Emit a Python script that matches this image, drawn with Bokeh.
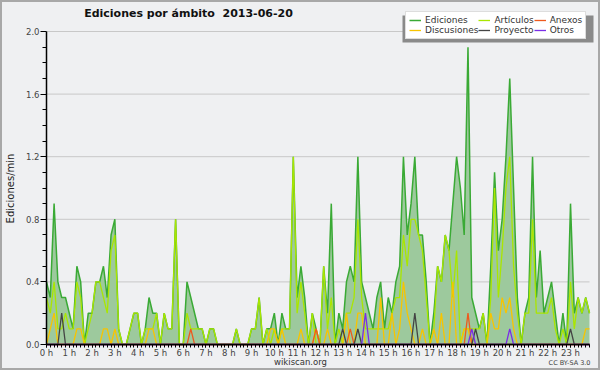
from math import pi
from bokeh.plotting import figure
from bokeh.models import Range1d, FixedTicker, Label, Legend, LegendItem, BoxAnnotation, PrintfTickFormatter
from bokeh.embed import file_html
from bokeh.resources import INLINE

# 10-minute bins over the day (minutes since 00:00)
minutos = list(range(0, 1440, 10))

# Ediciones/min per 10-minute bin
ediciones = [
    0.4, 0.3, 0.9, 0.4, 0.3, 0.3, 0.2, 0.1, 0.5, 0.4, 0.0, 0.2,
    0.2, 0.4, 0.4, 0.5, 0.3, 0.7, 0.8, 0.1, 0.0, 0.0, 0.1, 0.2,
    0.2, 0.0, 0.1, 0.3, 0.2, 0.2, 0.0, 0.2, 0.1, 0.1, 0.8, 0.0,
    0.0, 0.4, 0.3, 0.2, 0.1, 0.1, 0.0, 0.1, 0.1, 0.0, 0.0, 0.0,
    0.0, 0.0, 0.1, 0.0, 0.0, 0.0, 0.1, 0.1, 0.3, 0.0, 0.1, 0.1,
    0.2, 0.0, 0.2, 0.1, 0.1, 1.2, 0.3, 0.5, 0.3, 0.0, 0.2, 0.1,
    0.0, 0.5, 0.2, 0.9, 0.0, 0.2, 0.1, 0.4, 0.5, 0.4, 1.2, 0.4,
    0.3, 0.2, 0.1, 0.3, 0.4, 0.1, 0.3, 0.2, 0.4, 0.5, 1.2, 0.7,
    0.9, 1.2, 0.7, 0.7, 0.4, 0.0, 0.2, 0.5, 0.4, 0.7, 0.6, 0.9,
    1.2, 1.0, 0.7, 1.9, 0.3, 0.2, 0.1, 0.2, 0.0, 0.5, 1.1, 0.6,
    0.8, 1.2, 1.7, 1.0, 0.3, 0.0, 0.2, 0.3, 1.2, 0.3, 0.6, 0.2,
    0.3, 0.4, 0.2, 0.0, 0.2, 0.0, 0.9, 0.2, 0.3, 0.2, 0.3, 0.2,
]
articulos = [
    0.3, 0.2, 0.4, 0.1, 0.1, 0.2, 0.1, 0.1, 0.4, 0.3, 0.0, 0.1,
    0.2, 0.4, 0.4, 0.3, 0.2, 0.6, 0.7, 0.1, 0.0, 0.0, 0.1, 0.2,
    0.2, 0.0, 0.1, 0.1, 0.1, 0.2, 0.0, 0.2, 0.1, 0.1, 0.8, 0.0,
    0.0, 0.2, 0.1, 0.1, 0.1, 0.1, 0.0, 0.1, 0.1, 0.0, 0.0, 0.0,
    0.0, 0.0, 0.1, 0.0, 0.0, 0.0, 0.1, 0.1, 0.3, 0.0, 0.1, 0.0,
    0.1, 0.0, 0.1, 0.1, 0.1, 1.2, 0.2, 0.4, 0.2, 0.0, 0.2, 0.0,
    0.0, 0.5, 0.1, 0.3, 0.0, 0.1, 0.0, 0.2, 0.2, 0.3, 0.8, 0.3,
    0.1, 0.1, 0.1, 0.1, 0.1, 0.1, 0.1, 0.2, 0.3, 0.3, 0.7, 0.5,
    0.8, 0.8, 0.7, 0.6, 0.3, 0.0, 0.1, 0.5, 0.4, 0.7, 0.6, 0.3,
    0.6, 0.0, 0.1, 0.1, 0.1, 0.1, 0.1, 0.2, 0.0, 0.3, 1.0, 0.3,
    0.6, 1.0, 1.2, 0.5, 0.2, 0.0, 0.2, 0.2, 0.8, 0.2, 0.2, 0.2,
    0.2, 0.3, 0.1, 0.0, 0.1, 0.0, 0.4, 0.1, 0.3, 0.2, 0.3, 0.2,
]
discusiones = [
    0.0, 0.1, 0.2, 0.0, 0.0, 0.0, 0.0, 0.0, 0.1, 0.1, 0.0, 0.0,
    0.0, 0.0, 0.0, 0.1, 0.1, 0.0, 0.1, 0.0, 0.0, 0.0, 0.0, 0.0,
    0.0, 0.0, 0.0, 0.1, 0.1, 0.0, 0.0, 0.0, 0.0, 0.0, 0.0, 0.0,
    0.0, 0.0, 0.0, 0.0, 0.0, 0.0, 0.0, 0.0, 0.0, 0.0, 0.0, 0.0,
    0.0, 0.0, 0.0, 0.0, 0.0, 0.0, 0.0, 0.0, 0.0, 0.0, 0.0, 0.1,
    0.1, 0.0, 0.1, 0.0, 0.0, 0.0, 0.0, 0.1, 0.0, 0.0, 0.0, 0.1,
    0.0, 0.0, 0.1, 0.0, 0.0, 0.0, 0.0, 0.2, 0.0, 0.0, 0.2, 0.2,
    0.0, 0.0, 0.0, 0.0, 0.3, 0.0, 0.0, 0.2, 0.0, 0.1, 0.4, 0.2,
    0.1, 0.0, 0.0, 0.1, 0.0, 0.0, 0.1, 0.0, 0.2, 0.0, 0.0, 0.4,
    0.0, 0.0, 0.1, 0.1, 0.0, 0.0, 0.0, 0.0, 0.0, 0.2, 0.1, 0.1,
    0.3, 0.2, 0.3, 0.1, 0.0, 0.0, 0.0, 0.0, 0.0, 0.0, 0.0, 0.0,
    0.0, 0.0, 0.0, 0.0, 0.0, 0.0, 0.0, 0.0, 0.0, 0.0, 0.1, 0.1,
]
anexos = [
    0.0, 0.0, 0.0, 0.0, 0.0, 0.0, 0.0, 0.0, 0.0, 0.0, 0.0, 0.0,
    0.0, 0.0, 0.0, 0.0, 0.0, 0.0, 0.0, 0.0, 0.0, 0.0, 0.0, 0.0,
    0.0, 0.0, 0.0, 0.0, 0.0, 0.0, 0.0, 0.0, 0.0, 0.0, 0.0, 0.0,
    0.0, 0.0, 0.1, 0.0, 0.0, 0.0, 0.0, 0.0, 0.0, 0.0, 0.0, 0.0,
    0.0, 0.0, 0.0, 0.0, 0.0, 0.0, 0.0, 0.0, 0.0, 0.0, 0.0, 0.0,
    0.0, 0.0, 0.0, 0.0, 0.0, 0.0, 0.0, 0.0, 0.0, 0.0, 0.0, 0.1,
    0.0, 0.0, 0.0, 0.0, 0.0, 0.0, 0.0, 0.0, 0.1, 0.0, 0.0, 0.0,
    0.0, 0.0, 0.0, 0.0, 0.0, 0.0, 0.0, 0.0, 0.0, 0.0, 0.0, 0.0,
    0.0, 0.0, 0.0, 0.0, 0.0, 0.0, 0.0, 0.0, 0.0, 0.0, 0.0, 0.0,
    0.0, 0.0, 0.0, 0.2, 0.0, 0.0, 0.0, 0.0, 0.0, 0.0, 0.0, 0.0,
    0.0, 0.0, 0.0, 0.0, 0.0, 0.0, 0.0, 0.0, 0.0, 0.0, 0.0, 0.0,
    0.0, 0.0, 0.0, 0.0, 0.0, 0.0, 0.0, 0.0, 0.0, 0.0, 0.0, 0.0,
]
proyecto = [
    0.0, 0.0, 0.0, 0.0, 0.2, 0.0, 0.0, 0.0, 0.0, 0.0, 0.0, 0.0,
    0.0, 0.0, 0.0, 0.0, 0.0, 0.0, 0.0, 0.0, 0.0, 0.0, 0.0, 0.0,
    0.0, 0.0, 0.0, 0.0, 0.0, 0.0, 0.0, 0.0, 0.0, 0.0, 0.0, 0.0,
    0.0, 0.0, 0.0, 0.0, 0.0, 0.0, 0.0, 0.0, 0.0, 0.0, 0.0, 0.0,
    0.0, 0.0, 0.0, 0.0, 0.0, 0.0, 0.0, 0.0, 0.0, 0.0, 0.0, 0.0,
    0.0, 0.0, 0.0, 0.0, 0.0, 0.0, 0.0, 0.0, 0.0, 0.0, 0.0, 0.0,
    0.0, 0.0, 0.0, 0.0, 0.0, 0.0, 0.1, 0.0, 0.0, 0.0, 0.1, 0.0,
    0.0, 0.0, 0.0, 0.0, 0.0, 0.0, 0.0, 0.0, 0.0, 0.0, 0.0, 0.0,
    0.0, 0.2, 0.0, 0.0, 0.0, 0.0, 0.0, 0.0, 0.0, 0.0, 0.0, 0.0,
    0.0, 0.0, 0.0, 0.0, 0.0, 0.1, 0.0, 0.0, 0.0, 0.0, 0.0, 0.0,
    0.0, 0.0, 0.0, 0.0, 0.0, 0.0, 0.0, 0.0, 0.0, 0.0, 0.0, 0.0,
    0.0, 0.0, 0.0, 0.0, 0.0, 0.0, 0.1, 0.0, 0.0, 0.0, 0.0, 0.0,
]
otros = [
    0.0, 0.0, 0.0, 0.0, 0.0, 0.0, 0.0, 0.0, 0.0, 0.0, 0.0, 0.0,
    0.0, 0.0, 0.0, 0.0, 0.0, 0.0, 0.0, 0.0, 0.0, 0.0, 0.0, 0.0,
    0.0, 0.0, 0.0, 0.0, 0.0, 0.0, 0.0, 0.0, 0.0, 0.0, 0.0, 0.0,
    0.0, 0.0, 0.0, 0.0, 0.0, 0.0, 0.0, 0.0, 0.0, 0.0, 0.0, 0.0,
    0.0, 0.0, 0.0, 0.0, 0.0, 0.0, 0.0, 0.0, 0.0, 0.0, 0.0, 0.0,
    0.0, 0.0, 0.0, 0.0, 0.0, 0.0, 0.0, 0.0, 0.0, 0.0, 0.0, 0.0,
    0.0, 0.0, 0.0, 0.0, 0.0, 0.0, 0.0, 0.0, 0.0, 0.0, 0.0, 0.0,
    0.2, 0.0, 0.0, 0.0, 0.0, 0.0, 0.0, 0.0, 0.0, 0.0, 0.0, 0.0,
    0.0, 0.0, 0.0, 0.0, 0.0, 0.0, 0.0, 0.0, 0.0, 0.0, 0.0, 0.0,
    0.0, 0.0, 0.0, 0.0, 0.1, 0.0, 0.0, 0.0, 0.0, 0.0, 0.0, 0.0,
    0.0, 0.0, 0.1, 0.0, 0.0, 0.0, 0.0, 0.0, 0.0, 0.0, 0.0, 0.0,
    0.0, 0.0, 0.0, 0.0, 0.0, 0.0, 0.0, 0.0, 0.0, 0.0, 0.0, 0.0,
]

horas_ticks = list(range(24))
hora_labels = [f"{h} h" for h in horas_ticks]
y_ticks = [0.0, 0.4, 0.8, 1.2, 1.6, 2.0]
y_minor = [0.1, 0.2, 0.3, 0.5, 0.6, 0.7, 0.9, 1.0, 1.1, 1.3, 1.4, 1.5, 1.7, 1.8, 1.9]

titulo = "Ediciones por ámbito \u00a02013-06-20"
y_label = "Ediciones/min"

FONT = "DejaVu Sans"
W, H = 600, 370
X0_PX, Y0_PX = 46, 344         # pixel of x=0 h and y=0
PX_V = 156.5                   # pixels per 1.0 edit/min

x = [m / 60 for m in minutos]
px_h = 543 / x[-1]             # pixels per hour (0 h .. 23:50 over 543 px)

def dx(px):
    return (px - X0_PX) / px_h

def dy(py):
    return (Y0_PX - py) / PX_V

p = figure(width=W, height=H, output_backend="svg", toolbar_location=None, title=None,
           x_range=Range1d(dx(0), dx(W)), y_range=Range1d(dy(H), dy(0)),
           min_border_left=0, min_border_right=0, min_border_top=0, min_border_bottom=0)
p.background_fill_color = "#eff0f2"
p.border_fill_color = "#eff0f2"
p.outline_line_color = "#a8a8a8"
p.outline_line_width = 3

# both axes sit at the data origin inside the frame
p.xaxis.fixed_location = 0
p.xaxis.bounds = (0, x[-1])
p.xaxis.ticker = FixedTicker(ticks=horas_ticks, minor_ticks=x)
p.xaxis.major_label_overrides = {h: lab for h, lab in zip(horas_ticks, hora_labels)}
p.xaxis.major_tick_in = 0
p.xaxis.major_tick_out = 3
p.xaxis.minor_tick_in = 0
p.xaxis.minor_tick_out = 3
p.xaxis.major_label_standoff = 0

p.yaxis.fixed_location = 0
p.yaxis.bounds = (0, 2.0)
p.yaxis.ticker = FixedTicker(ticks=y_ticks, minor_ticks=y_minor)
p.yaxis.formatter = PrintfTickFormatter(format="%.1f")
p.yaxis.major_tick_in = 0
p.yaxis.major_tick_out = 6
p.yaxis.minor_tick_in = 0
p.yaxis.minor_tick_out = 4
p.yaxis.major_label_standoff = 1
for ax in (p.xaxis, p.yaxis):
    ax.axis_line_color = "black"
    ax.axis_line_width = 1.5
    ax.major_tick_line_color = "black"
    ax.minor_tick_line_color = "black"
    ax.major_label_text_font = FONT
    ax.major_label_text_font_size = "8.5px"
    ax.major_label_text_color = "#444444"
p.xgrid.visible = False
p.ygrid.visible = False

# horizontal grid lines at the major y ticks, spanning the data's time extent
grid_y = y_ticks[1:]
p.segment(x0=[x[0]] * len(grid_y), x1=[x[-1]] * len(grid_y), y0=grid_y, y1=grid_y,
          line_color="#c8c8c8", line_width=1, level="underlay")

# data
p.varea(x=x, y1=[0.0] * len(x), y2=ediciones, fill_color="#9dc99d", fill_alpha=1.0)
r_e = p.line(x, ediciones, line_color="#3aaa35", line_width=1.5)
r_r = p.line(x, articulos, line_color="#aae600", line_width=1.3)
r_d = p.line(x, discusiones, line_color="#f8c400", line_width=1.3)
r_a = p.line(x, anexos, line_color="#ee5a1e", line_width=1.3)
r_p = p.line(x, proyecto, line_color="#444444", line_width=1.3)
r_o = p.line(x, otros, line_color="#7a2ee6", line_width=1.3)

# legend with shadow
shadow = BoxAnnotation(left=dx(402), right=dx(593), top=dy(15), bottom=dy(42),
                       fill_color="#8a8a8a", fill_alpha=1.0, line_color=None)
p.add_layout(shadow)

legend = Legend(items=[
    LegendItem(label="Ediciones", renderers=[r_e]),
    LegendItem(label="Discusiones", renderers=[r_d]),
    LegendItem(label="Artículos", renderers=[r_r]),
    LegendItem(label="Proyecto", renderers=[r_p]),
    LegendItem(label="Anexos", renderers=[r_a]),
    LegendItem(label="Otros", renderers=[r_o]),
], location=(405, H - 39), orientation="vertical", nrows=2)
legend.label_text_font = FONT
legend.label_text_font_size = "9px"
legend.label_text_color = "#333333"
legend.glyph_width = 12
legend.glyph_height = 10
legend.label_height = 10
legend.label_standoff = 4
legend.spacing = 0
legend.padding = 3
legend.margin = 0
legend.border_line_color = "#bbbbbb"
legend.background_fill_color = "white"
legend.background_fill_alpha = 1.0
p.add_layout(legend)

p.add_layout(Label(x=dx(188), y=dy(13), text=titulo, text_align="center", text_baseline="middle",
                   text_font=FONT, text_font_size="11px", text_font_style="bold", text_color="#111111"))
p.add_layout(Label(x=dx(10), y=dy(188), text=y_label, angle=pi / 2, text_align="center",
                   text_baseline="middle", text_font=FONT, text_font_size="10px", text_color="#222222"))
p.add_layout(Label(x=dx(300), y=dy(361), text="wikiscan.org", text_align="center", text_baseline="middle",
                   text_font=FONT, text_font_size="8.5px", text_color="#333333"))
p.add_layout(Label(x=dx(590), y=dy(362), text="CC BY-SA 3.0", text_align="right", text_baseline="middle",
                   text_font=FONT, text_font_size="6.5px", text_color="#444444"))

open("out.html", "w").write(file_html(p, INLINE))
